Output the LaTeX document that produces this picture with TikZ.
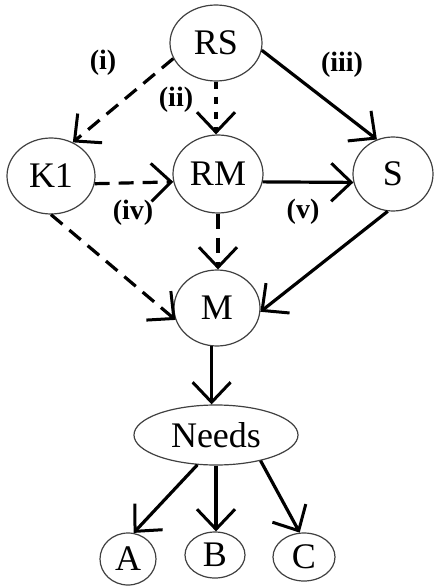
\documentclass[tikz,border=0pt]{standalone}
\usepackage{fontspec}
\setmainfont{Liberation Serif}
\usetikzlibrary{shapes.geometric,arrows.meta}
\begin{document}
\begin{tikzpicture}[x=1pt,y=-1pt,
  nd/.style={ellipse,draw=black!75,line width=1.2pt,inner sep=0pt,font=\fontsize{36}{40}\selectfont},
  lbl/.style={font=\bfseries\fontsize{28}{32}\selectfont,inner sep=0pt},
  edge/.style={line width=3.2pt,-{Straight Barb[length=20pt,width=38pt,line width=3pt]}},
  dsh/.style={edge,dash pattern=on 15pt off 9pt},
  dtt/.style={edge,dash pattern=on 7pt off 8pt}]
\useasboundingbox (0,0) rectangle (436,588);
\node[nd,minimum width=92pt,minimum height=76pt] (RS) at (216,43) {RS};
\node[nd,minimum width=88pt,minimum height=76pt] (K1) at (51,176) {K1};
\node[nd,minimum width=90pt,minimum height=78pt] (RM) at (218,174) {RM};
\node[nd,minimum width=80pt,minimum height=74pt] (S) at (393,174) {S};
\node[nd,minimum width=86pt,minimum height=76pt] (M) at (217,308) {M};
\node[nd,minimum width=164pt,minimum height=60pt] (N) at (216,435) {Needs};
\node[nd,minimum width=56pt,minimum height=52pt] (A) at (128,559) {A};
\node[nd,minimum width=60pt,minimum height=46pt] (B) at (215,555) {B};
\node[nd,minimum width=62pt,minimum height=48pt] (C) at (304,557) {C};
\draw[dsh] (RS.200) -- (K1.57);
\draw[dtt] (RS.south) -- (RS.south |- RM.north);
\draw[edge] (RS.-9) -- (S.115);
\draw[dsh] (K1.-10) -- (RM.190);
\draw[edge] (RM.-10) -- (S.192);
\draw[dsh] (K1.south) -- (M.196);
\draw[dsh] (RM.south) -- (RM.south |- M.north);
\draw[edge] (S.262) -- (M.355);
\draw[edge] (M.262) -- (M.262 |- N.north);
\draw[edge] (N.238) -- (A.78);
\draw[edge] (N.south) -- (N.south |- B.north);
\draw[edge] (N.330) -- (C.100);
\node[lbl] (l1) at (103,63) {(i)};
\node[lbl] (l2) at (176,100) {(ii)};
\node[lbl] (l3) at (342,65) {(iii)};
\node[lbl] (l4) at (133,213) {(iv)};
\node[lbl] (l5) at (303,212) {(v)};
\end{tikzpicture}
\end{document}
